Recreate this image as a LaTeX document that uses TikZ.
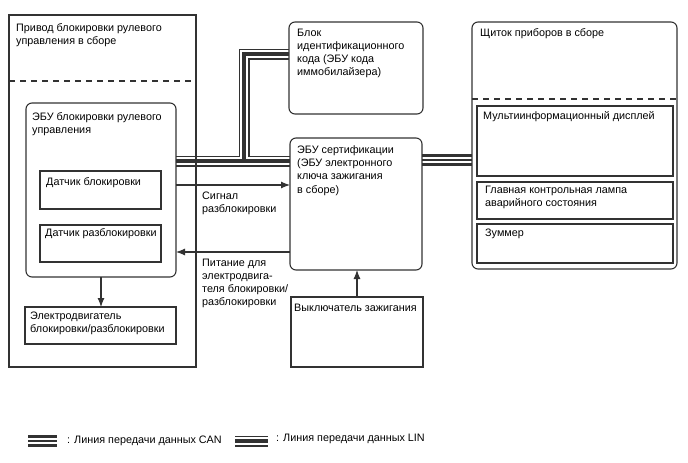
\documentclass[tikz,border=0pt]{standalone}
\usepackage{fontspec}
\setmainfont{Liberation Sans}
\usepackage{xcolor}
\usetikzlibrary{arrows.meta}
\definecolor{linegray}{RGB}{50,50,50}
\pgfdeclarelayer{background}
\pgfsetlayers{background,main}

\begin{document}
\begin{tikzpicture}[
    x=1pt, y=-1pt,
    box/.style={draw=linegray, line width=1.1pt, anchor=north west,
      inner sep=0pt, outer sep=0pt},
    rbox/.style={box, rounded corners=6pt},
    txt/.style={anchor=north west, align=left, inner sep=0pt,
      font=\fontsize{10.8}{13.2}\selectfont},
    sigline/.style={draw=linegray, line width=1.1pt,
      -{Latex[length=9pt,width=7pt]}},
    dashed line/.style={draw=linegray, line width=1.1pt,
      dash pattern=on 6pt off 5pt},
    every node/.style={color=black}
    ]
    \useasboundingbox (0,0) rectangle (688,463);
    % Boxes
    \node[box, minimum width=187pt, minimum height=352pt] (assy) at (9,15) {};
    \node[rbox, minimum width=150pt, minimum height=174pt] (ecu) at (26,103) {};
    \node[box, minimum width=121pt, minimum height=38pt] (lsens) at (40,171) {};
    \node[box, minimum width=121pt, minimum height=37pt] (usens) at (40,225) {};
    \node[box, minimum width=151pt, minimum height=37pt] (motor) at (25,307) {};
    \node[rbox, minimum width=134pt, minimum height=92pt] (idbox) at (289,22) {};
    \node[rbox, minimum width=132pt, minimum height=132pt] (cert) at (290,138) {};
    \node[box, minimum width=132pt, minimum height=70pt] (ign) at (291,297) {};
    \node[rbox, minimum width=205pt, minimum height=247pt] (clus) at (472,22) {};
    \node[box, minimum width=196pt, minimum height=70pt] (disp) at (477,106) {};
    \node[box, minimum width=196pt, minimum height=37pt] (lamp) at (477,182) {};
    \node[box, minimum width=196pt, minimum height=39pt] (buzz) at (477,224) {};
    \draw[dashed line] (assy.west |- 0,81) -- (assy.east |- 0,81);
    \draw[dashed line] (clus.west |- 0,99) -- (clus.east |- 0,99);
    % Texts
    \node[txt] (tAssy) at (16,23) {Привод блокировки рулевого\\управления в сборе};
    \node[txt] (tEcu) at (32,112.5) {ЭБУ блокировки рулевого\\управления};
    \node[txt] (tLsens) at (46,177.5) {Датчик блокировки};
    \node[txt] (tUsens) at (45,228.5) {Датчик разблокировки};
    \node[txt] (tMotor) at (30,311.5) {Электродвигатель\\блокировки/разблокировки};
    \node[txt] (tId) at (297,28.5) {Блок\\идентификационного\\кода (ЭБУ кода\\иммобилайзера)};
    \node[txt] (tCert) at (297,145.5) {ЭБУ сертификации\\(ЭБУ электронного\\ключа зажигания\\в сборе)};
    \node[txt] (tIgn) at (294,303.5) {Выключатель зажигания};
    \node[txt] (tClus) at (480,28.5) {Щиток приборов в сборе};
    \node[txt] (tDisp) at (483,111.5) {Мультиинформационный дисплей};
    \node[txt] (tLamp) at (485,185.5) {Главная контрольная лампа\\аварийного состояния};
    \node[txt] (tBuzz) at (485,228.5) {Зуммер};
    \node[txt] (tSig) at (202,191.5) {Сигнал\\разблокировки};
    \node[txt] (tPwr) at (202,258.5) {Питание для\\электродвига-\\теля блокировки/\\разблокировки};
    % Signals
    \coordinate (sigY) at (0,185);
    \coordinate (pwrY) at (0,252);
    \draw[sigline] (ecu.east |- sigY) -- (cert.west |- sigY);
    \draw[sigline] (cert.west |- pwrY) -- (ecu.east |- pwrY);
    \draw[sigline] (ecu.south) -- (ecu.south |- motor.north);
    \draw[sigline] (ign.north) -- (ign.north |- cert.south);
    % Bus lines
    \coordinate (linY) at (0,161);
    \coordinate (idY) at (0,54);
    \coordinate (linJ) at (244,0);
    \coordinate (canY) at (0,160);
    \coordinate (canA) at (28,441);
    \coordinate (canB) at (57,441);
    \coordinate (linA) at (235,441);
    \coordinate (linB) at (268,441);
    \begin{pgfonlayer}{background}
    \foreach \lw/\lc in {11/linegray, 8.4/white, 3.6/linegray}
      \draw[line width=\lw pt, draw=\lc, line join=miter]
        (ecu.east |- linY) -- (cert.west |- linY)
        (linJ |- linY) -- (linJ |- idY) -- (idbox.west |- idY)
        (linA) -- (linB);
    \foreach \lw/\lc in {12/linegray, 6.4/white, 1.4/linegray}
      \draw[line width=\lw pt, draw=\lc]
        (cert.east |- canY) -- (clus.west |- canY)
        (canA) -- (canB);
    \end{pgfonlayer}
    % Legend
    \node[txt, anchor=west] (tCan) at (67,441) {: Линия передачи данных CAN};
    \node[txt, anchor=west] (tLin) at (276,439) {: Линия передачи данных LIN};
\end{tikzpicture}
\end{document}
